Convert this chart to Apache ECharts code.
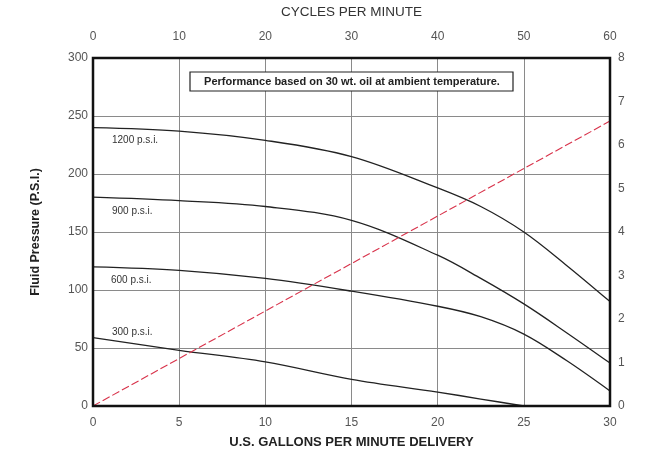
<!DOCTYPE html>
<html>
<head>
<meta charset="utf-8">
<script src="https://cdn.jsdelivr.net/npm/echarts@6/dist/echarts.min.js"></script>
<style>html,body{margin:0;padding:0;background:#fff;}#c{width:652px;height:454px;}</style>
</head>
<body>
<div id="c"></div>
<script>
// Data (U.S. gallons per minute vs fluid pressure, psi)
const gpm = [0, 5, 10, 15, 20, 22.5, 25, 27.5, 30];
const psi1200 = [240, 237, 229, 215, 188, 172, 150, 121, 90];
const psi900 = [180, 177, 172, 160, 130, 110, 88, 63, 37];
const psi600 = [120, 117, 110, 99, 86, 77, 62, 39, 13];
const gpm300 = [0, 5, 10, 15, 20, 22.5, 25];
const psi300 = [59, 48, 38, 23, 12, 6, 0];
// Delivery line (right axis)
const deliveryGpm = [0, 30];
const deliveryVal = [0, 6.55];
const curveLabels = ['1200 p.s.i.', '900 p.s.i.', '600 p.s.i.', '300 p.s.i.'];
const note = 'Performance based on 30 wt. oil at ambient temperature.';

const pair = (xs, ys) => xs.map((x, i) => [x, ys[i]]);
const FONT = "'Liberation Sans', 'DejaVu Sans', sans-serif";

const chart = echarts.init(document.getElementById('c'), null, {renderer: 'canvas'});
const curveStyle = {color: '#222', width: 1.3};
function curve(name, data) {
  return {name, type: 'line', xAxisIndex: 0, yAxisIndex: 0, data, smooth: 0.35,
    showSymbol: false, lineStyle: curveStyle, z: 3, silent: true};
}
chart.setOption({
  animation: false,
  backgroundColor: '#fff',
  grid: {left: 93, right: 42, top: 58, bottom: 46, show: true, borderColor: '#111', borderWidth: 2.5, backgroundColor: 'transparent', z: 5},
  xAxis: [
    {type: 'value', position: 'bottom', min: 0, max: 30, interval: 5,
     name: 'U.S. GALLONS PER MINUTE DELIVERY', nameLocation: 'middle', nameGap: 30,
     nameTextStyle: {fontFamily: FONT, fontSize: 13, fontWeight: 'bold', color: '#222'},
     axisLine: {show: false}, axisTick: {show: false},
     axisLabel: {fontFamily: FONT, fontSize: 12, color: '#555', margin: 11},
     splitLine: {show: true, lineStyle: {color: '#8a8a8a', width: 1}}},
    {type: 'value', position: 'top', min: 0, max: 60, interval: 10,
     name: 'CYCLES PER MINUTE', nameLocation: 'middle', nameGap: 39,
     nameTextStyle: {fontFamily: FONT, fontSize: 13.5, color: '#333'},
     axisLine: {show: false}, axisTick: {show: false},
     axisLabel: {fontFamily: FONT, fontSize: 12, color: '#555', margin: 15},
     splitLine: {show: false}}
  ],
  yAxis: [
    {type: 'value', position: 'left', min: 0, max: 300, interval: 50,
     name: 'Fluid Pressure (P.S.I.)', nameLocation: 'middle', nameGap: 51,
     nameTextStyle: {fontFamily: FONT, fontSize: 12.5, fontWeight: 'bold', color: '#222'},
     axisLine: {show: false}, axisTick: {show: false},
     axisLabel: {fontFamily: FONT, fontSize: 12, color: '#555', margin: 5},
     splitLine: {show: true, lineStyle: {color: '#8a8a8a', width: 1}}},
    {type: 'value', position: 'right', min: 0, max: 8, interval: 1,
     axisLine: {show: false}, axisTick: {show: false},
     axisLabel: {fontFamily: FONT, fontSize: 12, color: '#555', margin: 8},
     splitLine: {show: false}}
  ],
  series: [
    curve('1200', pair(gpm, psi1200)),
    curve('900', pair(gpm, psi900)),
    curve('600', pair(gpm, psi600)),
    curve('300', pair(gpm300, psi300)),
    {name: 'delivery', type: 'line', xAxisIndex: 0, yAxisIndex: 1, data: pair(deliveryGpm, deliveryVal),
     showSymbol: false, lineStyle: {color: '#d8324a', width: 1.1, type: [8, 3]}, z: 4, silent: true}
  ],
  graphic: [
    {type: 'rect', shape: {x: 190, y: 72, width: 323, height: 19},
     style: {fill: '#fff', stroke: '#222', lineWidth: 1.2}, z: 10},
    {type: 'text', x: 352, y: 81.5, z: 11,
     style: {text: note, fontFamily: FONT, fontSize: 11, fontWeight: 'bold', fill: '#222', align: 'center', verticalAlign: 'middle'}},
    {type: 'text', x: 112, y: 140, z: 11, style: {text: curveLabels[0], fontFamily: FONT, fontSize: 10, fill: '#333', verticalAlign: 'middle'}},
    {type: 'text', x: 112, y: 211, z: 11, style: {text: curveLabels[1], fontFamily: FONT, fontSize: 10, fill: '#333', verticalAlign: 'middle'}},
    {type: 'text', x: 111, y: 280, z: 11, style: {text: curveLabels[2], fontFamily: FONT, fontSize: 10, fill: '#333', verticalAlign: 'middle'}},
    {type: 'text', x: 112, y: 332, z: 11, style: {text: curveLabels[3], fontFamily: FONT, fontSize: 10, fill: '#333', verticalAlign: 'middle'}}
  ]
});
</script>
</body>
</html>
